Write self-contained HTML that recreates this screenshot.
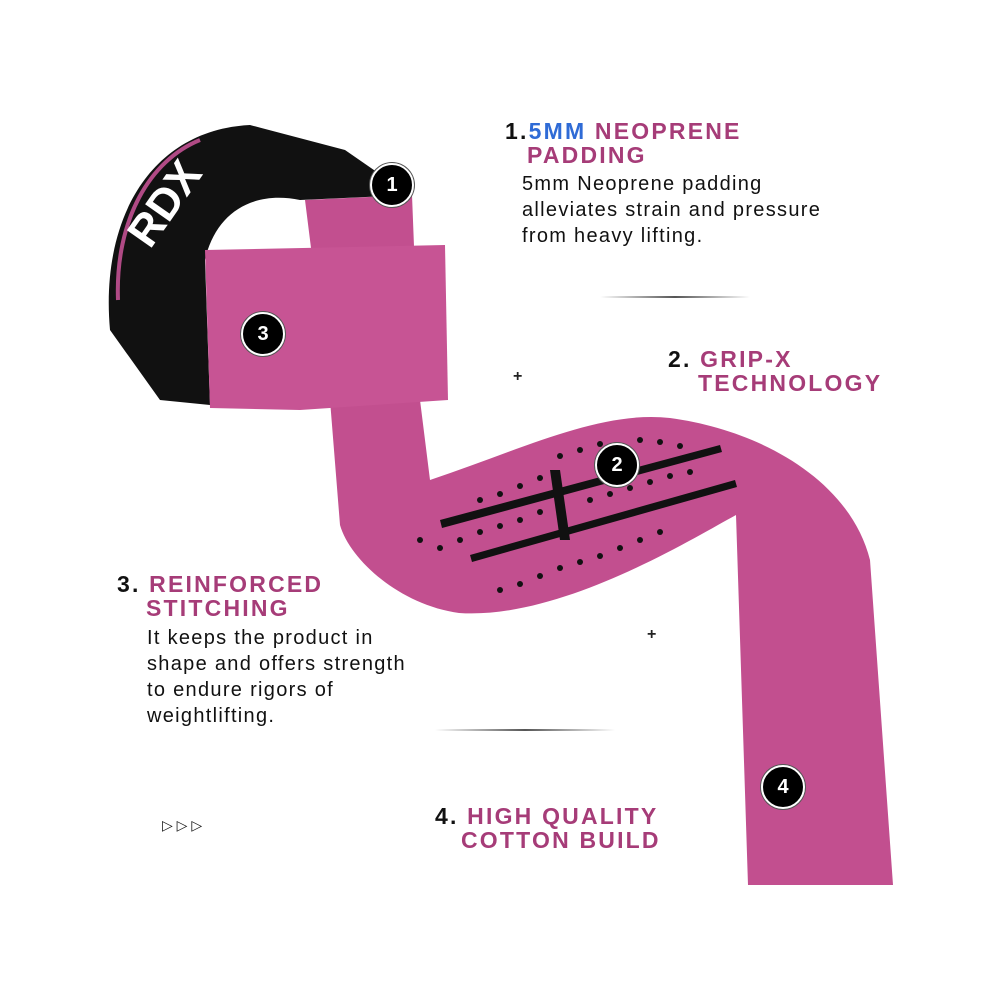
<!DOCTYPE html>
<html><head><style>
body{margin:0;background:#fff;}
.w{position:relative;width:1000px;height:1000px;overflow:hidden;font-family:"Liberation Sans",sans-serif;}
.h{position:absolute;font-weight:bold;font-size:23px;letter-spacing:2.2px;color:#a63c78;line-height:24px;}
.n{color:#111;}
.b{position:absolute;font-size:20px;color:#111;line-height:26px;letter-spacing:1.3px;}
.c{position:absolute;width:40px;height:40px;border-radius:50%;background:#000;border:2px solid #fff;box-shadow:0 0 0 1px #555;color:#fff;font-weight:bold;font-size:20px;text-align:center;line-height:40px;}
</style></head><body><div class="w">
<svg width="1000" height="1000" style="position:absolute;left:0;top:0">
<defs>
<linearGradient id="g" x1="0" x2="1"><stop offset="0" stop-color="#fff"/><stop offset=".5" stop-color="#555"/><stop offset="1" stop-color="#fff"/></linearGradient>
</defs>
<path d="M305,200 L412,195 L420,400 L430,480 C520,450 600,410 670,418 C760,430 850,480 870,560 L893,885 L748,885 L736,515 C690,540 560,620 459,613 C400,605 350,560 340,525 L330,400 Z" fill="#c24f8f"/>
<path d="M110,330 C100,220 150,130 250,125 L345,150 L410,195 L300,200 C250,190 215,215 205,260 L210,405 L160,400 Z" fill="#111"/>
<path d="M118,300 C115,220 150,160 200,140" stroke="#b04a85" stroke-width="4" fill="none"/>
<text x="150" y="250" fill="#fff" font-weight="bold" font-size="44" font-family="Liberation Sans" transform="rotate(-55 150 250)">RDX</text>
<path d="M205,250 L445,245 L448,400 L300,410 L210,408 Z" fill="#c75494"/>
<g fill="#111">
<path d="M440,520 L720,445 L722,452 L442,528Z"/>
<path d="M470,555 L735,480 L737,487 L472,562Z"/>
<path d="M550,470 L560,470 L570,540 L560,540Z"/>
</g>
<g fill="#111">
<circle cx="420" cy="540" r="3"/><circle cx="440" cy="548" r="3"/><circle cx="460" cy="540" r="3"/><circle cx="480" cy="532" r="3"/><circle cx="500" cy="526" r="3"/><circle cx="520" cy="520" r="3"/><circle cx="540" cy="512" r="3"/><circle cx="590" cy="500" r="3"/><circle cx="610" cy="494" r="3"/><circle cx="630" cy="488" r="3"/><circle cx="650" cy="482" r="3"/><circle cx="670" cy="476" r="3"/><circle cx="690" cy="472" r="3"/>
<circle cx="480" cy="500" r="3"/><circle cx="500" cy="494" r="3"/><circle cx="520" cy="486" r="3"/><circle cx="540" cy="478" r="3"/><circle cx="560" cy="456" r="3"/><circle cx="580" cy="450" r="3"/><circle cx="600" cy="444" r="3"/><circle cx="640" cy="440" r="3"/><circle cx="660" cy="442" r="3"/><circle cx="680" cy="446" r="3"/>
<circle cx="500" cy="590" r="3"/><circle cx="520" cy="584" r="3"/><circle cx="540" cy="576" r="3"/><circle cx="560" cy="568" r="3"/><circle cx="580" cy="562" r="3"/><circle cx="600" cy="556" r="3"/><circle cx="620" cy="548" r="3"/><circle cx="640" cy="540" r="3"/><circle cx="660" cy="532" r="3"/>
</g>
<rect x="600" y="296" width="150" height="2" fill="url(#g)"/>
<rect x="435" y="729" width="180" height="2" fill="url(#g)"/>
<text x="513" y="381" font-size="16" font-weight="bold" fill="#222">+</text>
<text x="647" y="639" font-size="16" font-weight="bold" fill="#222">+</text>
<text x="162" y="830" font-size="14" fill="#111">▷ ▷ ▷</text>
</svg>
<div class="c" style="left:370px;top:163px">1</div>
<div class="c" style="left:241px;top:312px">3</div>
<div class="c" style="left:595px;top:443px">2</div>
<div class="c" style="left:761px;top:765px">4</div>
<div class="h" style="left:505px;top:119px"><span class="n">1.</span><span style="color:#2f6bd6">5MM</span> NEOPRENE</div>
<div class="h" style="left:527px;top:143px">PADDING</div>
<div class="b" style="left:522px;top:171px">5mm Neoprene padding<br>alleviates strain and pressure<br>from heavy lifting.</div>
<div class="h" style="left:668px;top:347px"><span class="n">2.</span> GRIP-X</div>
<div class="h" style="left:698px;top:371px">TECHNOLOGY</div>
<div class="h" style="left:117px;top:572px"><span class="n">3.</span> REINFORCED</div>
<div class="h" style="left:146px;top:596px">STITCHING</div>
<div class="b" style="left:147px;top:625px">It keeps the product in<br>shape and offers strength<br>to endure rigors of<br>weightlifting.</div>
<div class="h" style="left:435px;top:804px"><span class="n">4.</span> HIGH QUALITY</div>
<div class="h" style="left:461px;top:828px">COTTON BUILD</div>
</div></body></html>
